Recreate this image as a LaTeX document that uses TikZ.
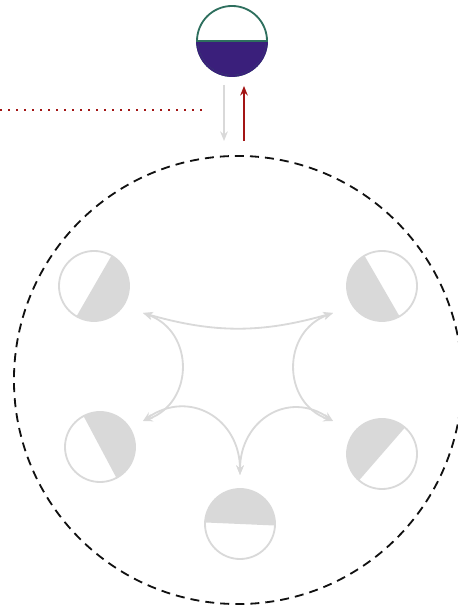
\documentclass[tikz,border=0pt]{standalone}
\usetikzlibrary{arrows.meta}
\definecolor{soft}{HTML}{D9D9D9}
\definecolor{deep}{HTML}{3A1F7B}
\definecolor{rim}{HTML}{2E6F5E}
\definecolor{alarm}{HTML}{A31515}
\definecolor{ink}{HTML}{111111}

\begin{document}
\begin{tikzpicture}[x=0.025cm, y=0.025cm,
  >={Stealth[length=2.4mm, width=1.9mm]},
  half/.style n args={2}{path picture={\fill[#2] (path picture bounding box.center) ++(#1:1cm)
      arc[start angle=#1, delta angle=180, radius=1cm] -- cycle;}},
  state/.style={circle, draw=soft, line width=1.3pt, minimum size=17.5mm, inner sep=0pt, half={#1}{soft}},
  source/.style={circle, draw=rim, line width=1.3pt, minimum size=17.5mm, inner sep=0pt, half={180}{deep}},
  ring/.style={circle, draw=ink, line width=1.3pt, dash pattern=on 6.4pt off 4.3pt, minimum size=112mm, inner sep=0pt},
  flow/.style={<->, draw=soft, line width=1.3pt},
  feed/.style={->, line width=1.4pt},
  probe/.style={alarm, line width=1.4pt, dash pattern=on 1.4pt off 4.3pt}]
\clip (0,0) rectangle (458,609);
% ---------- source and ring
\node[source] (src) at (232,568) {};
\draw[deep, line width=1.3pt] (src.center) ++(180:8.75mm) arc[start angle=180, delta angle=180, radius=8.75mm];
\draw[rim, line width=1.3pt] (src.west) -- (src.east);
\node[ring] (loop) at (238,229) {};
% ---------- states inside the ring
\node[state=-120] (s1) at (94,323) {};
\node[state=120] (s2) at (382,323) {};
\node[state=-62] (s3) at (100,162) {};
\node[state=49] (s4) at (382,155) {};
\node[state=-2.5] (s5) at (240,85) {};
% ---------- ends of the transitions
\coordinate (t1) at (143,296);
\coordinate (t2) at (333,296);
\coordinate (t3) at (143,188);
\coordinate (t4) at (333,188);
\coordinate (t5) at (240,134);
\draw[flow] (t1) to[bend right=16] (t2);
\draw[flow] (t1) to[out=-20, in=20, looseness=1.3] (t3);
\draw[flow] (t2) to[out=200, in=160, looseness=1.3] (t4);
\draw[flow] (t3) to[out=35, in=90, looseness=1.3] (t5);
\draw[flow] (t4) to[out=145, in=90, looseness=1.3] (t5);
% ---------- exchange with the source
\draw[feed, draw=soft] ([shift={(-8,-8)}]src.south) -- ([shift={(-14,14)}]loop.north);
\draw[feed, draw=alarm] ([shift={(6,14)}]loop.north) -- ([shift={(12,-9)}]src.south);
\coordinate (edge) at (0,499);
\coordinate (tap) at (208,499);
\draw[probe] (edge) -- (tap);
\end{tikzpicture}
\end{document}
